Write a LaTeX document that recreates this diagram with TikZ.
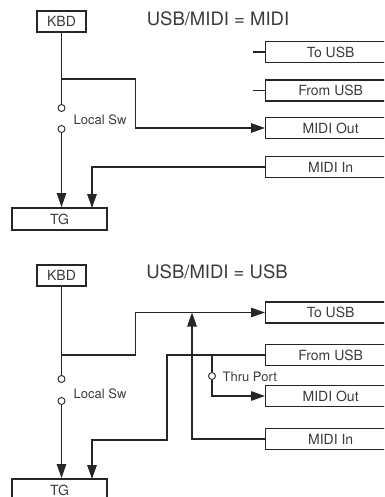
\documentclass[tikz,border=0pt]{standalone}
\usepackage{fontspec}
\setmainfont{TeX Gyre Heros}
\usetikzlibrary{arrows.meta}

\definecolor{traco}{HTML}{262626}
\definecolor{texto}{HTML}{3A3A3A}

\begin{document}
\begin{tikzpicture}[
        x=1pt, y=-1pt,
        >={Triangle[length=14pt,width=9.5pt]},
        line width=1.3pt, draw=traco, text=texto,
        unit/.style={draw, line width=1.9pt, minimum width=49pt, minimum height=21pt, inner sep=0pt, font=\fontsize{14}{16}\selectfont},
        port/.style={draw, line width=1.3pt, anchor=west, minimum width=130pt, minimum height=21pt, inner sep=0pt, font=\fontsize{14}{16}\selectfont},
        switch/.style={circle, draw, fill=white, line width=0.9pt, minimum size=7pt, inner sep=0pt},
        note/.style={anchor=west, inner sep=0pt, font=\fontsize{13}{15}\selectfont},
        heading/.style={inner sep=0pt, font=\fontsize{18.5}{20}\selectfont}
    ]

        \useasboundingbox (0,0) rectangle (384,497);
        \clip (0,0) rectangle (384,497);

        % ==================================================
        % USB/MIDI = MIDI
        % ==================================================

        \node[heading] at (218,19) {USB/MIDI = MIDI};

        \node[unit] (kbd1) at (61.5,21.5) {KBD};
        \node[unit, minimum width=95pt, minimum height=22pt] (tg1) at (59.5,219) {TG};

        % Portas
        \node[port] (tousb1)   at (265,52)  {To USB};
        \node[port] (fromusb1) at (265,90.5) {From USB};
        \node[port] (midiout1) at (265,128) {MIDI Out};
        \node[port] (midiin1)  at (265,167) {MIDI In};

        % Local Sw
        \node[switch] (s1) at (61.5,108) {};
        \node[switch] (s2) at (61.5,129) {};
        \node[note] at (73,120) {Local Sw};

        \coordinate (j1) at (61.5,79);
        \coordinate (tg1in) at (92,208);

        % Ligacoes
        \draw (kbd1) -- (s1);
        \draw[->] (s2) -- (kbd1.south |- tg1.north);
        \draw[->] (j1) -- ++(74,0) |- (midiout1.west);
        \draw[->] (midiin1.west) -| (tg1in);
        \draw (tousb1.west) -- ++(-12,0);
        \draw (fromusb1.west) -- ++(-12,0);

        % ==================================================
        % USB/MIDI = USB
        % ==================================================

        \node[heading] at (217,272) {USB/MIDI = USB};

        \node[unit] (kbd2) at (61.5,275.5) {KBD};
        \node[unit, minimum width=95pt, minimum height=22pt] (tg2) at (59.5,490) {TG};

        % Portas
        \node[port] (tousb2)   at (265,312.5) {To USB};
        \node[port] (fromusb2) at (265,355) {From USB};
        \node[port] (midiout2) at (265,396) {MIDI Out};
        \node[port] (midiin2)  at (265,439) {MIDI In};

        % Local Sw e Thru Port
        \node[switch] (s3) at (61.5,379) {};
        \node[switch] (s4) at (61.5,401) {};
        \node[note] at (73,394) {Local Sw};

        \node[switch] (s5) at (212,376) {};
        \node[note] at (222,377) {Thru Port};

        \coordinate (j2) at (61.5,355);
        \coordinate (thru) at (212,355);
        \coordinate (merge) at (192,312.5);
        \coordinate (tg2in) at (92,479);

        % Ligacoes
        \draw (kbd2) -- (s3);
        \draw[->] (s4) -- (kbd2.south |- tg2.north);
        \draw[->] (j2) -- ++(74,0) |- (tousb2.west);
        \draw[->] (midiin2.west) -| (merge);
        \draw[->] (fromusb2.west) -| (167,440) -| (tg2in);
        \draw (thru) -- (s5);
        \draw[->] (s5) |- (midiout2.west);
    \end{tikzpicture}
\end{document}
